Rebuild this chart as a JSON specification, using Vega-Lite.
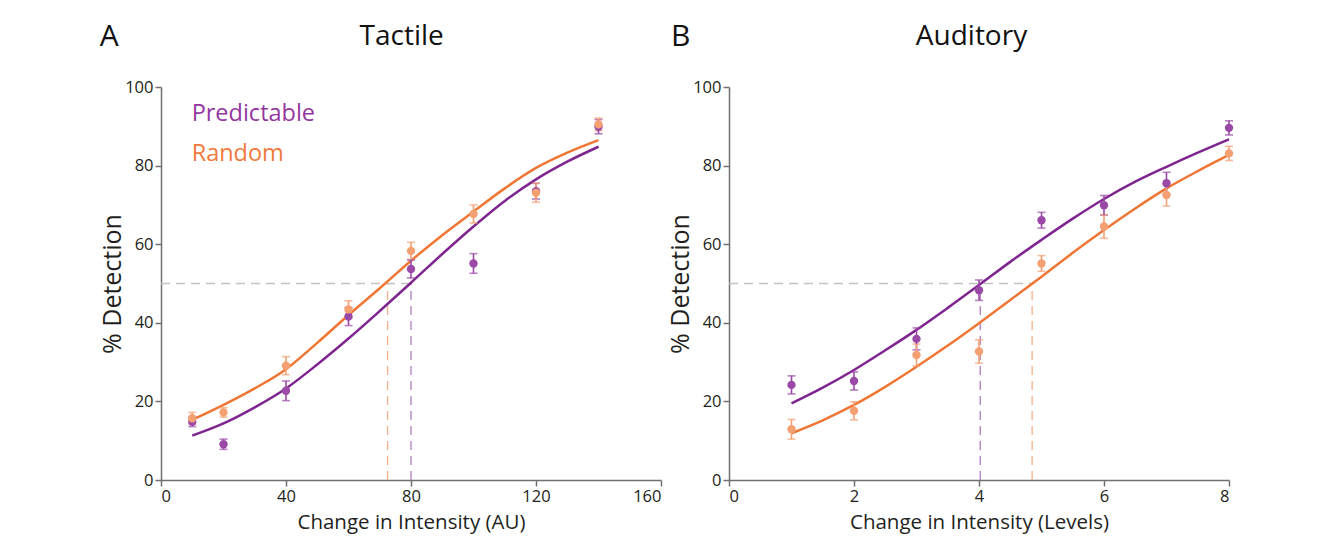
{
  "$schema": "https://vega.github.io/schema/vega-lite/v6.json",
  "background": "white",
  "padding": {"left": 99, "top": 22, "right": 10, "bottom": 5},
  "config": {
    "font": "Open Sans",
    "view": {"stroke": null},
    "axis": {
      "grid": false,
      "domainColor": "#707070",
      "domainWidth": 1.5,
      "tickColor": "#707070",
      "tickWidth": 1.5,
      "tickSize": 6,
      "labelColor": "#231f20",
      "labelFontSize": 16.5,
      "labelFont": "Open Sans",
      "titleFont": "Open Sans",
      "titleColor": "#231f20",
      "titleFontWeight": "normal",
      "labelPadding": 2
    }
  },
  "datasets": {
    "points": [
      {"panel": "Tactile", "cond": "Predictable", "x": 10, "y": 14.8, "lo": 13.6, "hi": 16.0},
      {"panel": "Tactile", "cond": "Predictable", "x": 20, "y": 9.1, "lo": 7.8, "hi": 10.4},
      {"panel": "Tactile", "cond": "Predictable", "x": 40, "y": 22.7, "lo": 20.2, "hi": 25.2},
      {"panel": "Tactile", "cond": "Predictable", "x": 60, "y": 41.6, "lo": 39.3, "hi": 43.9},
      {"panel": "Tactile", "cond": "Predictable", "x": 80, "y": 53.7, "lo": 51.4, "hi": 56.0},
      {"panel": "Tactile", "cond": "Predictable", "x": 100, "y": 55.1, "lo": 52.6, "hi": 57.6},
      {"panel": "Tactile", "cond": "Predictable", "x": 120, "y": 73.5, "lo": 71.5, "hi": 75.5},
      {"panel": "Tactile", "cond": "Predictable", "x": 140, "y": 89.9, "lo": 88.1, "hi": 91.7},
      {"panel": "Tactile", "cond": "Random", "x": 10, "y": 15.7, "lo": 14.2, "hi": 17.2},
      {"panel": "Tactile", "cond": "Random", "x": 20, "y": 17.2, "lo": 16.0, "hi": 18.4},
      {"panel": "Tactile", "cond": "Random", "x": 40, "y": 29.1, "lo": 26.8, "hi": 31.4},
      {"panel": "Tactile", "cond": "Random", "x": 60, "y": 43.4, "lo": 41.2, "hi": 45.6},
      {"panel": "Tactile", "cond": "Random", "x": 80, "y": 58.3, "lo": 56.1, "hi": 60.5},
      {"panel": "Tactile", "cond": "Random", "x": 100, "y": 67.7, "lo": 65.4, "hi": 70.0},
      {"panel": "Tactile", "cond": "Random", "x": 120, "y": 73.1, "lo": 70.7, "hi": 75.5},
      {"panel": "Tactile", "cond": "Random", "x": 140, "y": 90.5, "lo": 88.9, "hi": 92.1},
      {"panel": "Auditory", "cond": "Predictable", "x": 1, "y": 24.2, "lo": 21.9, "hi": 26.5},
      {"panel": "Auditory", "cond": "Predictable", "x": 2, "y": 25.2, "lo": 22.9, "hi": 27.5},
      {"panel": "Auditory", "cond": "Predictable", "x": 3, "y": 35.9, "lo": 33.1, "hi": 38.7},
      {"panel": "Auditory", "cond": "Predictable", "x": 4, "y": 48.3, "lo": 45.7, "hi": 50.9},
      {"panel": "Auditory", "cond": "Predictable", "x": 5, "y": 66.1, "lo": 64.1, "hi": 68.1},
      {"panel": "Auditory", "cond": "Predictable", "x": 6, "y": 69.9, "lo": 67.4, "hi": 72.4},
      {"panel": "Auditory", "cond": "Predictable", "x": 7, "y": 75.5, "lo": 72.7, "hi": 78.3},
      {"panel": "Auditory", "cond": "Predictable", "x": 8, "y": 89.6, "lo": 87.8, "hi": 91.4},
      {"panel": "Auditory", "cond": "Random", "x": 1, "y": 12.9, "lo": 10.4, "hi": 15.4},
      {"panel": "Auditory", "cond": "Random", "x": 2, "y": 17.6, "lo": 15.3, "hi": 19.9},
      {"panel": "Auditory", "cond": "Random", "x": 3, "y": 31.8, "lo": 29.0, "hi": 34.6},
      {"panel": "Auditory", "cond": "Random", "x": 4, "y": 32.7, "lo": 29.7, "hi": 35.7},
      {"panel": "Auditory", "cond": "Random", "x": 5, "y": 55.1, "lo": 53.1, "hi": 57.1},
      {"panel": "Auditory", "cond": "Random", "x": 6, "y": 64.5, "lo": 61.5, "hi": 67.5},
      {"panel": "Auditory", "cond": "Random", "x": 7, "y": 72.5, "lo": 69.7, "hi": 75.3},
      {"panel": "Auditory", "cond": "Random", "x": 8, "y": 83.1, "lo": 81.3, "hi": 84.9}
    ],
    "curves": [
      {"panel": "Tactile", "cond": "Predictable", "x": 10, "y": 11.3},
      {"panel": "Tactile", "cond": "Predictable", "x": 20, "y": 14.4},
      {"panel": "Tactile", "cond": "Predictable", "x": 30, "y": 18.5},
      {"panel": "Tactile", "cond": "Predictable", "x": 40, "y": 23.3},
      {"panel": "Tactile", "cond": "Predictable", "x": 50, "y": 29.4},
      {"panel": "Tactile", "cond": "Predictable", "x": 60, "y": 36.0},
      {"panel": "Tactile", "cond": "Predictable", "x": 70, "y": 43.0},
      {"panel": "Tactile", "cond": "Predictable", "x": 80, "y": 50.2},
      {"panel": "Tactile", "cond": "Predictable", "x": 90, "y": 57.5},
      {"panel": "Tactile", "cond": "Predictable", "x": 100, "y": 64.5},
      {"panel": "Tactile", "cond": "Predictable", "x": 110, "y": 71.0},
      {"panel": "Tactile", "cond": "Predictable", "x": 120, "y": 76.5},
      {"panel": "Tactile", "cond": "Predictable", "x": 130, "y": 81.0},
      {"panel": "Tactile", "cond": "Predictable", "x": 140, "y": 84.8},
      {"panel": "Tactile", "cond": "Random", "x": 10, "y": 15.3},
      {"panel": "Tactile", "cond": "Random", "x": 20, "y": 19.1},
      {"panel": "Tactile", "cond": "Random", "x": 30, "y": 23.3},
      {"panel": "Tactile", "cond": "Random", "x": 40, "y": 28.2},
      {"panel": "Tactile", "cond": "Random", "x": 50, "y": 34.9},
      {"panel": "Tactile", "cond": "Random", "x": 60, "y": 42.0},
      {"panel": "Tactile", "cond": "Random", "x": 70, "y": 48.8},
      {"panel": "Tactile", "cond": "Random", "x": 80, "y": 55.8},
      {"panel": "Tactile", "cond": "Random", "x": 90, "y": 62.3},
      {"panel": "Tactile", "cond": "Random", "x": 100, "y": 68.3},
      {"panel": "Tactile", "cond": "Random", "x": 110, "y": 74.2},
      {"panel": "Tactile", "cond": "Random", "x": 120, "y": 79.4},
      {"panel": "Tactile", "cond": "Random", "x": 130, "y": 83.3},
      {"panel": "Tactile", "cond": "Random", "x": 140, "y": 86.5},
      {"panel": "Auditory", "cond": "Predictable", "x": 1, "y": 19.5},
      {"panel": "Auditory", "cond": "Predictable", "x": 1.5, "y": 23.5},
      {"panel": "Auditory", "cond": "Predictable", "x": 2, "y": 28.0},
      {"panel": "Auditory", "cond": "Predictable", "x": 2.5, "y": 33.0},
      {"panel": "Auditory", "cond": "Predictable", "x": 3, "y": 38.2},
      {"panel": "Auditory", "cond": "Predictable", "x": 3.5, "y": 43.8},
      {"panel": "Auditory", "cond": "Predictable", "x": 4, "y": 49.6},
      {"panel": "Auditory", "cond": "Predictable", "x": 4.5, "y": 55.5},
      {"panel": "Auditory", "cond": "Predictable", "x": 5, "y": 61.1},
      {"panel": "Auditory", "cond": "Predictable", "x": 5.5, "y": 66.5},
      {"panel": "Auditory", "cond": "Predictable", "x": 6, "y": 71.5},
      {"panel": "Auditory", "cond": "Predictable", "x": 6.5, "y": 75.9},
      {"panel": "Auditory", "cond": "Predictable", "x": 7, "y": 79.7},
      {"panel": "Auditory", "cond": "Predictable", "x": 7.5, "y": 83.3},
      {"panel": "Auditory", "cond": "Predictable", "x": 8, "y": 86.7},
      {"panel": "Auditory", "cond": "Random", "x": 1, "y": 11.9},
      {"panel": "Auditory", "cond": "Random", "x": 1.5, "y": 15.2},
      {"panel": "Auditory", "cond": "Random", "x": 2, "y": 19.1},
      {"panel": "Auditory", "cond": "Random", "x": 2.5, "y": 23.7},
      {"panel": "Auditory", "cond": "Random", "x": 3, "y": 28.8},
      {"panel": "Auditory", "cond": "Random", "x": 3.5, "y": 34.2},
      {"panel": "Auditory", "cond": "Random", "x": 4, "y": 39.9},
      {"panel": "Auditory", "cond": "Random", "x": 4.5, "y": 45.8},
      {"panel": "Auditory", "cond": "Random", "x": 5, "y": 51.7},
      {"panel": "Auditory", "cond": "Random", "x": 5.5, "y": 57.8},
      {"panel": "Auditory", "cond": "Random", "x": 6, "y": 63.6},
      {"panel": "Auditory", "cond": "Random", "x": 6.5, "y": 69.1},
      {"panel": "Auditory", "cond": "Random", "x": 7, "y": 74.2},
      {"panel": "Auditory", "cond": "Random", "x": 7.5, "y": 78.6},
      {"panel": "Auditory", "cond": "Random", "x": 8, "y": 82.7}
    ],
    "refs": [
      {"panel": "Tactile", "kind": "Threshold", "x": 0, "x2": 80, "y": 50, "y2": 50},
      {"panel": "Tactile", "kind": "Random", "x": 72.5, "x2": 72.5, "y": 0, "y2": 50},
      {"panel": "Tactile", "kind": "Predictable", "x": 80, "x2": 80, "y": 0, "y2": 50},
      {"panel": "Auditory", "kind": "Threshold", "x": 0, "x2": 4.85, "y": 50, "y2": 50},
      {"panel": "Auditory", "kind": "Predictable", "x": 4.02, "x2": 4.02, "y": 0, "y2": 50},
      {"panel": "Auditory", "kind": "Random", "x": 4.85, "x2": 4.85, "y": 0, "y2": 50}
    ]
  },
  "hconcat": [
    {
      "width": 500,
      "height": 393,
      "resolve": {"scale": {"color": "independent"}},
      "layer": [
        {
          "data": {"name": "refs"},
          "transform": [{"filter": "datum.panel === 'Tactile'"}],
          "mark": {"type": "rule", "strokeDash": [9, 6], "strokeWidth": 1.3},
          "encoding": {
            "x": {"field": "x", "type": "quantitative", "scale": {"domain": [0, 160], "nice": false}, "axis": {"values": [0, 40, 80, 120, 160], "format": "d", "title": "Change in Intensity (AU)", "titleFontSize": 20.5, "titlePadding": 8}},
            "x2": {"field": "x2"},
            "y": {"field": "y", "type": "quantitative", "scale": {"domain": [0, 100]}, "axis": {"values": [0, 20, 40, 60, 80, 100], "title": "% Detection", "titleFontSize": 25, "titlePadding": -1}},
            "y2": {"field": "y2"},
            "color": {"field": "kind", "type": "nominal", "scale": {"domain": ["Threshold", "Predictable", "Random"], "range": ["#c2c2c2", "#b07dc0", "#f6b088"]}, "legend": null}
          }
        },
        {
          "data": {"name": "curves"},
          "transform": [{"filter": "datum.panel === 'Tactile'"}],
          "mark": {"type": "line", "strokeWidth": 2.5, "interpolate": "monotone"},
          "encoding": {
            "x": {"field": "x", "type": "quantitative"},
            "y": {"field": "y", "type": "quantitative", "title": "% Detection"},
            "color": {"field": "cond", "type": "nominal", "scale": {"domain": ["Predictable", "Random"], "range": ["#7e2590", "#ef7634"]}, "legend": null}
          }
        },
        {
          "data": {"name": "points"},
          "transform": [{"filter": "datum.panel === 'Tactile'"}],
          "mark": {"type": "errorbar", "ticks": {"size": 8, "thickness": 1.6}, "rule": {"strokeWidth": 1.6}},
          "encoding": {
            "x": {"field": "x", "type": "quantitative"},
            "y": {"field": "lo", "type": "quantitative", "title": "% Detection"},
            "y2": {"field": "hi"},
            "color": {"field": "cond", "type": "nominal", "scale": {"domain": ["Predictable", "Random"], "range": ["#9a4aa6", "#f4a073"]}, "legend": null}
          }
        },
        {
          "data": {"name": "points"},
          "transform": [{"filter": "datum.panel === 'Tactile'"}],
          "mark": {"type": "circle", "size": 70, "opacity": 1},
          "encoding": {
            "x": {"field": "x", "type": "quantitative"},
            "y": {"field": "y", "type": "quantitative", "title": "% Detection"},
            "color": {"field": "cond", "type": "nominal", "scale": {"domain": ["Predictable", "Random"], "range": ["#9a4aa6", "#f4a073"]}, "legend": null}
          }
        },
        {
          "data": {"values": [{}]},
          "mark": {"type": "text", "fontSize": 23.5, "align": "left", "baseline": "middle", "color": "#93379f"},
          "encoding": {"x": {"datum": 9.8}, "y": {"datum": 93.2}, "text": {"value": "Predictable"}}
        },
        {
          "data": {"values": [{}]},
          "mark": {"type": "text", "fontSize": 23.5, "align": "left", "baseline": "middle", "color": "#ef7a3c"},
          "encoding": {"x": {"datum": 9.8}, "y": {"datum": 83.0}, "text": {"value": "Random"}}
        },
        {
          "data": {"values": [{}]},
          "mark": {"type": "text", "fontSize": 30, "align": "left", "baseline": "middle", "color": "#111111"},
          "encoding": {"x": {"datum": -19.6}, "y": {"datum": 112.7}, "text": {"value": "A"}}
        },
        {
          "data": {"values": [{}]},
          "mark": {"type": "text", "fontSize": 28, "align": "center", "baseline": "middle", "color": "#111111"},
          "encoding": {"x": {"datum": 77.0}, "y": {"datum": 112.7}, "text": {"value": "Tactile"}}
        }
      ]
    },
    {
      "width": 500,
      "height": 393,
      "resolve": {"scale": {"color": "independent"}},
      "layer": [
        {
          "data": {"name": "refs"},
          "transform": [{"filter": "datum.panel === 'Auditory'"}],
          "mark": {"type": "rule", "strokeDash": [9, 6], "strokeWidth": 1.3},
          "encoding": {
            "x": {"field": "x", "type": "quantitative", "scale": {"domain": [0, 8], "nice": false}, "axis": {"values": [0, 2, 4, 6, 8], "format": "d", "title": "Change in Intensity (Levels)", "titleFontSize": 20.5, "titlePadding": 8}},
            "x2": {"field": "x2"},
            "y": {"field": "y", "type": "quantitative", "scale": {"domain": [0, 100]}, "axis": {"values": [0, 20, 40, 60, 80, 100], "title": "% Detection", "titleFontSize": 25, "titlePadding": -1}},
            "y2": {"field": "y2"},
            "color": {"field": "kind", "type": "nominal", "scale": {"domain": ["Threshold", "Predictable", "Random"], "range": ["#c2c2c2", "#b07dc0", "#f6b088"]}, "legend": null}
          }
        },
        {
          "data": {"name": "curves"},
          "transform": [{"filter": "datum.panel === 'Auditory'"}],
          "mark": {"type": "line", "strokeWidth": 2.5, "interpolate": "monotone"},
          "encoding": {
            "x": {"field": "x", "type": "quantitative"},
            "y": {"field": "y", "type": "quantitative", "title": "% Detection"},
            "color": {"field": "cond", "type": "nominal", "scale": {"domain": ["Predictable", "Random"], "range": ["#7e2590", "#ef7634"]}, "legend": null}
          }
        },
        {
          "data": {"name": "points"},
          "transform": [{"filter": "datum.panel === 'Auditory'"}],
          "mark": {"type": "errorbar", "ticks": {"size": 8, "thickness": 1.6}, "rule": {"strokeWidth": 1.6}},
          "encoding": {
            "x": {"field": "x", "type": "quantitative"},
            "y": {"field": "lo", "type": "quantitative", "title": "% Detection"},
            "y2": {"field": "hi"},
            "color": {"field": "cond", "type": "nominal", "scale": {"domain": ["Predictable", "Random"], "range": ["#9a4aa6", "#f4a073"]}, "legend": null}
          }
        },
        {
          "data": {"name": "points"},
          "transform": [{"filter": "datum.panel === 'Auditory'"}],
          "mark": {"type": "circle", "size": 70, "opacity": 1},
          "encoding": {
            "x": {"field": "x", "type": "quantitative"},
            "y": {"field": "y", "type": "quantitative", "title": "% Detection"},
            "color": {"field": "cond", "type": "nominal", "scale": {"domain": ["Predictable", "Random"], "range": ["#9a4aa6", "#f4a073"]}, "legend": null}
          }
        },
        {
          "data": {"values": [{}]},
          "mark": {"type": "text", "fontSize": 30, "align": "left", "baseline": "middle", "color": "#111111"},
          "encoding": {"x": {"datum": -0.93}, "y": {"datum": 112.7}, "text": {"value": "B"}}
        },
        {
          "data": {"values": [{}]},
          "mark": {"type": "text", "fontSize": 28, "align": "center", "baseline": "middle", "color": "#111111"},
          "encoding": {"x": {"datum": 3.88}, "y": {"datum": 112.7}, "text": {"value": "Auditory"}}
        }
      ]
    }
  ],
  "spacing": 6
}
